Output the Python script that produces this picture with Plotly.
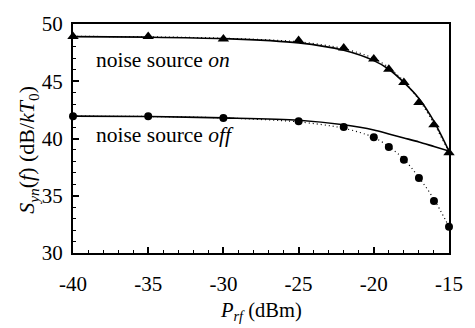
import plotly.graph_objects as go

# measured points
x_pts = [-40, -35, -30, -25, -22, -20, -19, -18, -17, -16, -15]
on_vals = [48.9, 48.9, 48.7, 48.55, 47.9, 46.95, 46.05, 44.9, 43.15, 41.2, 38.75]
off_vals = [41.95, 41.95, 41.8, 41.5, 41.0, 40.1, 39.25, 38.15, 36.55, 34.55, 32.3]

# model curves
x_curve = [-40, -35, -30, -25, -22, -20, -19, -18, -17, -16, -15]
on_solid = [48.9, 48.85, 48.72, 48.35, 47.7, 46.8, 46.05, 44.9, 43.5, 41.5, 38.9]
on_dotted = [48.92, 48.88, 48.76, 48.45, 47.85, 47.0, 46.2, 45.0, 43.4, 41.3, 38.8]
off_solid = [41.95, 41.92, 41.8, 41.6, 41.2, 40.75, 40.4, 40.05, 39.7, 39.3, 38.9]
off_dotted = [41.95, 41.92, 41.8, 41.45, 40.9, 40.1, 39.3, 38.2, 36.6, 34.7, 32.3]

x_ticks = [-40, -35, -30, -25, -20, -15]
y_ticks = [30, 35, 40, 45, 50]

SERIF = "Liberation Serif"

fig = go.Figure()
for ys, dash in [(on_dotted, "dot"), (off_dotted, "dot"), (on_solid, "solid"), (off_solid, "solid")]:
    fig.add_trace(go.Scatter(x=x_curve, y=ys, mode="lines",
                             line=dict(color="black", width=1.6 if dash == "solid" else 1.2,
                                       dash="1px,3px" if dash == "dot" else "solid",
                                       shape="spline", smoothing=0.8),
                             showlegend=False, hoverinfo="skip", cliponaxis=False))
fig.add_trace(go.Scatter(x=x_pts, y=on_vals, mode="markers",
                         marker=dict(symbol="triangle-up", size=10, color="black"),
                         showlegend=False, cliponaxis=False))
fig.add_trace(go.Scatter(x=x_pts, y=off_vals, mode="markers",
                         marker=dict(symbol="circle", size=8, color="black"),
                         showlegend=False, cliponaxis=False))

fig.add_annotation(x=-38.6, y=46.85, xref="x", yref="y", text="noise source <i>on</i>",
                   showarrow=False, xanchor="left", yanchor="middle",
                   font=dict(family=SERIF, size=21.5, color="black"))
fig.add_annotation(x=-38.6, y=40.3, xref="x", yref="y", text="noise source <i>off</i>",
                   showarrow=False, xanchor="left", yanchor="middle",
                   font=dict(family=SERIF, size=21.5, color="black"))

# axis titles
fig.add_annotation(x=-0.12, y=39.0, xref="paper", yref="y", textangle=-90,
                   text="<i>S</i><sub><i>yn</i></sub>(<i>f</i>) (dB/<i>kT</i><sub>0</sub>)",
                   showarrow=False, xanchor="center", yanchor="middle",
                   font=dict(family=SERIF, size=22, color="black"))
fig.add_annotation(x=0.5, y=-0.255, xref="paper", yref="paper",
                   text="<i>P</i><sub><i>rf</i></sub> (dBm)",
                   showarrow=False, xanchor="center", yanchor="middle",
                   font=dict(family=SERIF, size=20.5, color="black"))

fig.update_layout(
    width=475, height=328,
    margin=dict(l=73, r=20, t=13, b=75),
    paper_bgcolor="white", plot_bgcolor="white",
    font=dict(family=SERIF, size=21, color="black"),
    xaxis=dict(range=[-40, -15], tickvals=x_ticks, ticktext=[str(v) for v in x_ticks],
               ticks="inside", ticklen=6, tickwidth=1.5, tickcolor="black",
               tickfont=dict(family=SERIF, size=21), ticklabelstandoff=11,
               minor=dict(dtick=1, ticks="inside", ticklen=3, tickwidth=1.2, tickcolor="black"),
               showline=True, linecolor="black", linewidth=2, mirror=True,
               showgrid=False, zeroline=False),
    yaxis=dict(range=[30, 50], tickvals=y_ticks,
               ticks="inside", ticklen=6, tickwidth=1.5, tickcolor="black",
               tickfont=dict(family=SERIF, size=21), ticklabelstandoff=4,
               minor=dict(dtick=1, ticks="inside", ticklen=3, tickwidth=1.2, tickcolor="black"),
               showline=True, linecolor="black", linewidth=2, mirror=True,
               showgrid=False, zeroline=False),
)

fig.write_html("out.html")
